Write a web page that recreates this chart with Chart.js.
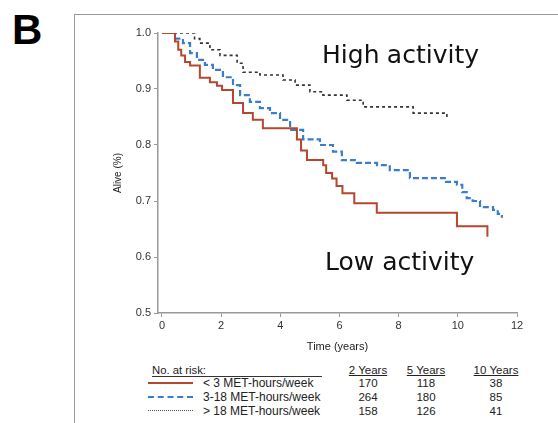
<!DOCTYPE html>
<html>
<head>
<meta charset="utf-8">
<script src="https://cdn.jsdelivr.net/npm/chart.js@4"></script>
<style>
	body { margin: 0; width: 558px; height: 423px; background: #fff; position: relative; overflow: hidden; font-family: "Liberation Sans", Arial, sans-serif; color: #222; }
	.frame { position: absolute; left: 74px; top: 14px; width: 600px; height: 500px; border-left: 1.5px solid #999; border-top: 1.5px solid #999; }
	.panel { position: absolute; left: 12px; top: 9px; font-size: 42px; line-height: 42px; font-weight: bold; color: #000; }
	.chart { position: absolute; left: 100px; top: 20px; width: 430px; height: 340px; }
	.t { position: absolute; white-space: nowrap; line-height: 12px; }
	.c { transform: translateX(-50%); }
	.u { text-decoration: underline; }
	.sw { position: absolute; left: 148px; width: 45px; height: 0; }
</style>
</head>
<body>
<div class="frame"></div>
<div class="panel">B</div>
<div class="chart"><canvas id="km"></canvas></div>
<div id="risk"></div>
<script>
// < 3 MET-hours/week
const lowTimes = [0, 0.44, 0.55, 0.65, 0.78, 0.95, 1.28, 1.62, 1.86, 2.03, 2.4, 2.74, 3.07, 3.41, 4.56, 4.7, 4.9, 5.45, 5.55, 5.75, 5.9, 6.1, 6.5, 7.26, 9.97, 11.0];
const lowSurv = [1.0, 0.985, 0.97, 0.96, 0.948, 0.942, 0.92, 0.912, 0.906, 0.898, 0.875, 0.857, 0.845, 0.83, 0.81, 0.79, 0.773, 0.764, 0.75, 0.74, 0.727, 0.714, 0.696, 0.679, 0.655, 0.636];

// 3-18 MET-hours/week
const midTimes = [0, 0.44, 0.71, 0.95, 1.18, 1.45, 1.72, 2.06, 2.4, 2.64, 2.97, 3.31, 3.65, 3.99, 4.33, 4.77, 5.34, 5.78, 6.08, 6.59, 7.27, 7.7, 8.38, 9.6, 9.97, 10.15, 10.3, 10.5, 10.75, 11.19, 11.35, 11.49];
const midSurv = [1.0, 0.99, 0.982, 0.964, 0.952, 0.943, 0.934, 0.921, 0.907, 0.889, 0.877, 0.866, 0.857, 0.845, 0.827, 0.81, 0.8, 0.788, 0.773, 0.768, 0.764, 0.755, 0.741, 0.734, 0.729, 0.716, 0.705, 0.7, 0.689, 0.684, 0.677, 0.67];

// > 18 MET-hours/week
const highTimes = [0, 1.1, 1.28, 1.62, 1.96, 2.54, 2.74, 3.31, 4.09, 4.5, 5.0, 5.44, 6.25, 6.8, 8.49, 9.63];
const highSurv = [1.0, 0.99, 0.982, 0.97, 0.96, 0.946, 0.93, 0.925, 0.916, 0.907, 0.895, 0.889, 0.88, 0.868, 0.857, 0.845];

const xTicks = [0, 2, 4, 6, 8, 10, 12];
const yTicks = [0.5, 0.6, 0.7, 0.8, 0.9, 1.0];

const groupLabels = ["< 3 MET-hours/week", "3-18 MET-hours/week", "> 18 MET-hours/week"];
const riskYears = ["2 Years", "5 Years", "10 Years"];
const riskLow = [170, 118, 38];
const riskMid = [264, 180, 85];
const riskHigh = [158, 126, 41];

function toPoints(times, surv) {
	return times.map((t, i) => ({ x: t, y: surv[i] }));
}

const tickFont = { family: "Liberation Sans", size: 11 };

const annotations = {
	id: "annotations",
	afterDraw(chart) {
		const ctx = chart.ctx;
		const x = chart.scales.x;
		const y = chart.scales.y;
		ctx.save();
		ctx.font = '25px "DejaVu Sans"';
		ctx.fillStyle = "#111";
		ctx.textBaseline = "alphabetic";
		ctx.fillText("High", x.getPixelForValue(5.41), y.getPixelForValue(0.946));
		ctx.fillText("activity", x.getPixelForValue(7.6), y.getPixelForValue(0.946));
		ctx.fillText("Low activity", x.getPixelForValue(5.51), y.getPixelForValue(0.577));
		ctx.restore();
	},
};

new Chart(document.getElementById("km"), {
	type: "scatter",
	data: {
		datasets: [
			{
				label: groupLabels[0],
				data: toPoints(lowTimes, lowSurv),
				showLine: true,
				stepped: "before",
				borderColor: "#b4472f",
				borderWidth: 2,
				pointRadius: 0,
			},
			{
				label: groupLabels[1],
				data: toPoints(midTimes, midSurv),
				showLine: true,
				stepped: "before",
				borderColor: "#3a7dcc",
				borderWidth: 2.2,
				borderDash: [6, 3],
				pointRadius: 0,
			},
			{
				label: groupLabels[2],
				data: toPoints(highTimes, highSurv),
				showLine: true,
				stepped: "before",
				borderColor: "#333",
				borderWidth: 1.6,
				borderDash: [3, 3],
				pointRadius: 0,
			},
		],
	},
	options: {
		responsive: true,
		maintainAspectRatio: false,
		animation: false,
		layout: { padding: { top: 13, right: 13, left: 0, bottom: 0 } },
		plugins: { legend: { display: false }, tooltip: { enabled: false } },
		scales: {
			x: {
				type: "linear",
				min: -0.135,
				max: 12,
				afterBuildTicks: (scale) => { scale.ticks = xTicks.map((v) => ({ value: v })); },
				afterFit: (scale) => { scale.height = 47; },
				border: { display: true, color: "#999", width: 1.5 },
				grid: { drawOnChartArea: false, drawTicks: true, tickLength: 4, tickColor: "#999" },
				ticks: { font: tickFont, color: "#333", padding: 2, maxRotation: 0 },
				title: { display: true, text: "Time (years)", font: tickFont, color: "#222", padding: { top: 4, bottom: 6 } },
			},
			y: {
				min: 0.5,
				max: 1.0,
				afterBuildTicks: (scale) => { scale.ticks = yTicks.map((v) => ({ value: v })); },
				afterFit: (scale) => { scale.width = 58; },
				border: { display: true, color: "#999", width: 1.5 },
				grid: { drawOnChartArea: false, drawTicks: true, tickLength: 4, tickColor: "#999" },
				ticks: { font: tickFont, color: "#333", padding: 3, callback: (v) => Number(v).toFixed(1) },
				title: { display: true, text: "Alive (%)", font: { family: "Liberation Sans", size: 10 }, color: "#222", padding: { top: 12, bottom: 0 } },
			},
		},
	},
	plugins: [annotations],
});

// number at risk table
const risk = document.getElementById("risk");
const rowY = [383, 397, 411];
const colX = [368, 426, 496];
const swatches = [
	"border-top: 2px solid #b4472f;",
	"border-top: 2px dashed #3a7dcc;",
	"border-top: 1.5px dotted #555;",
];
const riskRows = [riskLow, riskMid, riskHigh];

function addText(text, left, center, cls, size) {
	const el = document.createElement("div");
	el.className = "t " + cls;
	el.textContent = text;
	el.style.left = left + "px";
	el.style.top = (center - 6) + "px";
	el.style.fontSize = size + "px";
	risk.appendChild(el);
}

addText("No. at risk:", 152, 370, "", 11.3);
const line = document.createElement("div");
line.style.cssText = "position:absolute;left:152px;top:376px;width:170px;border-top:1px solid #333;";
risk.appendChild(line);
riskYears.forEach((y, i) => addText(y, colX[i], 370, "c u", 11.5));

groupLabels.forEach((label, r) => {
	const sw = document.createElement("div");
	sw.className = "sw";
	sw.style.cssText += swatches[r] + "top:" + (rowY[r] - 1) + "px;";
	risk.appendChild(sw);
	addText(label, 203, rowY[r], "", 12);
	riskRows[r].forEach((n, i) => addText(String(n), colX[i], rowY[r], "c", 11.5));
});
</script>
</body>
</html>
